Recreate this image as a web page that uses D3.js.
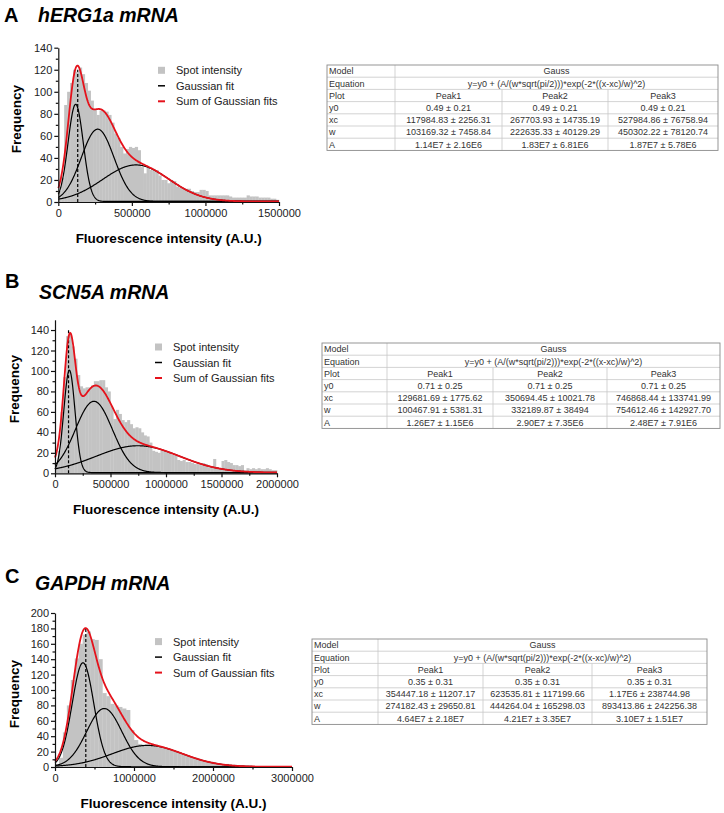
<!DOCTYPE html>
<html>
<head>
<meta charset="utf-8">
<script src="https://cdn.jsdelivr.net/npm/d3@7"></script>
<style>
  body { margin: 0; background: #fff; }
  svg { display: block; font-family: "Liberation Sans", Arial, sans-serif; }
</style>
</head>
<body>
<svg id="chart" width="724" height="813"></svg>
<script>
// ---- data ----
const letters = ['A', 'B', 'C']
const titles = ['hERG1a mRNA', 'SCN5A mRNA', 'GAPDH mRNA']
const legendLabels = ['Spot intensity', 'Gaussian fit', 'Sum of Gaussian fits']
const xTitle = 'Fluorescence intensity (A.U.)'
const yTitle = 'Frequency'

const xMaxes = [1500000, 2000000, 3000000]
const yMaxes = [140, 150, 200]
const xTickSteps = [500000, 500000, 1000000]
const binWidths = [20000, 25000, 50000]

// histogram counts per bin
const countsA = [10, 22, 88, 100, 108, 120, 118, 122, 116, 108, 101, 92, 84, 79, 83, 83, 82, 79, 72, 62,
  58, 50, 44, 48, 50, 49, 50, 47, 32, 26, 31, 29, 30, 29, 24, 20, 20, 17, 20, 19,
  14, 13, 12, 12, 12, 10, 9, 9, 11, 11, 10, 6, 6, 6, 6, 6, 6, 6, 5, 4,
  4, 4, 4, 4, 6, 5, 5, 5, 4, 4, 4, 4, 3, 3, 2]
const countsB = [10, 22, 60, 94, 134, 136, 124, 112, 96, 85,
  83, 84, 84, 86, 90, 90, 91, 91, 84, 80,
  65, 53, 62, 58, 52, 50, 52, 48, 44, 45,
  44, 40, 37, 36, 30, 22, 21, 20, 22, 22,
  21, 20, 18, 17, 13, 12, 13, 11, 11, 10,
  9, 9, 8, 10, 9, 6, 6, 14, 6, 5,
  12, 13, 11, 10, 8, 8, 7, 8, 3, 5,
  4, 5, 4, 5, 4, 4, 5, 4, 3, 3]
const countsC = [4, 12, 45, 80, 113, 141, 160, 172, 176, 166,
  165, 140, 96, 92, 82, 80, 78, 76, 74, 48,
  35, 30, 29, 29, 28, 29, 27, 25, 24, 22,
  20, 19, 17, 15, 13, 12, 10, 9, 8, 7,
  6, 5, 4, 4, 3, 3, 2, 2, 2, 1,
  1, 1, 1, 1, 0, 0, 1, 0, 0, 0]

// dashed marker at the main peak
const peakLineX = [132000, 122000, 390000]
const peakLineTop = [120, 140, 180]

// fit tables
const rowLabels = ['Model', 'Equation', 'Plot', 'y0', 'xc', 'w', 'A']
const modelName = 'Gauss'
const equation = 'y=y0 + (A/(w*sqrt(pi/2)))*exp(-2*((x-xc)/w)^2)'
const peakNames = ['Peak1', 'Peak2', 'Peak3']

const y0A = ['0.49 ± 0.21', '0.49 ± 0.21', '0.49 ± 0.21']
const xcA = ['117984.83 ± 2256.31', '267703.93 ± 14735.19', '527984.86 ± 76758.94']
const wA = ['103169.32 ± 7458.84', '222635.33 ± 40129.29', '450302.22 ± 78120.74']
const ampA = ['1.14E7 ± 2.16E6', '1.83E7 ± 6.81E6', '1.87E7 ± 5.78E6']

const y0B = ['0.71 ± 0.25', '0.71 ± 0.25', '0.71 ± 0.25']
const xcB = ['129681.69 ± 1775.62', '350694.45 ± 10021.78', '746868.44 ± 133741.99']
const wB = ['100467.91 ± 5381.31', '332189.87 ± 38494', '754612.46 ± 142927.70']
const ampB = ['1.26E7 ± 1.15E6', '2.90E7 ± 7.35E6', '2.48E7 ± 7.91E6']

const y0C = ['0.35 ± 0.31', '0.35 ± 0.31', '0.35 ± 0.31']
const xcC = ['354447.18 ± 11207.17', '623535.81 ± 117199.66', '1.17E6 ± 238744.98']
const wC = ['274182.43 ± 29650.81', '444264.04 ± 165298.03', '893413.86 ± 242256.38']
const ampC = ['4.64E7 ± 2.18E7', '4.21E7 ± 3.35E7', '3.10E7 ± 1.51E7']

// ---- layout (pixels) ----
const layout = [
  { left: 58.3, right: 279, top: 47.7, bottom: 202, letter: [4, 22], title: [38, 22], yLab: [21, 119], xLab: 243,
    legend: [158, 74.3, 176], table: { x: 327, y: 65, cols: [68, 107, 106, 110], rowH: 12.2 } },
  { left: 55, right: 277, top: 319.8, bottom: 473.3, letter: [5, 288], title: [39, 299], yLab: [19, 389], xLab: 514,
    legend: [155, 351, 173], table: { x: 322, y: 343, cols: [65, 106, 114, 113], rowH: 12.2 } },
  { left: 55, right: 292, top: 613, bottom: 767, letter: [5, 583], title: [35, 590], yLab: [19, 694], xLab: 808,
    legend: [155, 645.6, 173], table: { x: 312, y: 639, cols: [66, 105, 109, 115], rowH: 12.2 } }
]

const panels = [
  { counts: countsA, y0: y0A, xc: xcA, w: wA, amp: ampA },
  { counts: countsB, y0: y0B, xc: xcB, w: wB, amp: ampB },
  { counts: countsC, y0: y0C, xc: xcC, w: wC, amp: ampC }
].map((d, i) => ({
  ...d, ...layout[i],
  name: letters[i], titleText: titles[i], xMax: xMaxes[i], yMax: yMaxes[i],
  xStep: xTickSteps[i], bin: binWidths[i], peakX: peakLineX[i], peakTop: peakLineTop[i]
}))

const num = s => parseFloat(s.split('±')[0])
const svg = d3.select('#chart')

function drawPanel(p) {
  const g = svg.append('g')
  const x = d3.scaleLinear().domain([0, p.xMax]).range([p.left, p.right])
  const y = d3.scaleLinear().domain([0, p.yMax]).range([p.bottom, p.top])

  // histogram
  g.append('g')
    .attr('fill', '#c3c3c3')
    .selectAll('rect')
    .data(p.counts)
    .join('rect')
    .attr('x', (d, i) => x(i * p.bin))
    .attr('width', x(p.bin) - x(0) + 0.3)
    .attr('y', d => y(d))
    .attr('height', d => y(0) - y(d))

  // gaussian fits from the table parameters
  const base = num(p.y0[0])
  const peaks = p.xc.map((s, i) => {
    const w = num(p.w[i])
    return { xc: num(s), w, h: num(p.amp[i]) / (w * Math.sqrt(Math.PI / 2)) }
  })
  const gauss = (pk, v) => pk.h * Math.exp(-2 * Math.pow((v - pk.xc) / pk.w, 2))
  const xs = d3.range(0, p.xMax + 1, p.xMax / 500)
  const line = d3.line().x(d => x(d[0])).y(d => y(d[1]))

  g.append('line')
    .attr('x1', x(p.peakX)).attr('x2', x(p.peakX))
    .attr('y1', y(0)).attr('y2', y(p.peakTop))
    .attr('stroke', '#000').attr('stroke-width', 1.2)
    .attr('stroke-dasharray', '3,2')

  peaks.forEach(pk => {
    g.append('path')
      .attr('d', line(xs.map(v => [v, base + gauss(pk, v)])))
      .attr('fill', 'none').attr('stroke', '#000').attr('stroke-width', 1.2)
  })
  g.append('path')
    .attr('d', line(xs.map(v => [v, base + d3.sum(peaks, pk => gauss(pk, v))])))
    .attr('fill', 'none').attr('stroke', '#e5121b').attr('stroke-width', 1.8)

  // axes
  g.append('g')
    .attr('transform', `translate(0,${p.bottom})`)
    .call(d3.axisBottom(x)
      .tickValues(d3.range(0, p.xMax + 1, p.xStep))
      .tickFormat(d3.format('d'))
      .tickSize(4).tickSizeOuter(0).tickPadding(3))
  g.append('g')
    .attr('transform', `translate(0,${p.bottom})`)
    .call(d3.axisBottom(x)
      .tickValues(d3.range(p.xStep / 2, p.xMax, p.xStep))
      .tickFormat('').tickSize(2.5))
    .call(a => a.select('.domain').remove())

  g.append('g')
    .attr('transform', `translate(${p.left},0)`)
    .call(d3.axisLeft(y)
      .tickValues(d3.range(0, p.yMax + 1, 20))
      .tickSize(4).tickSizeOuter(0).tickPadding(2))
  g.append('g')
    .attr('transform', `translate(${p.left},0)`)
    .call(d3.axisLeft(y)
      .tickValues(d3.range(10, p.yMax, 20))
      .tickFormat('').tickSize(2.5))
    .call(a => a.select('.domain').remove())

  g.selectAll('.domain, .tick line').attr('stroke', '#111').attr('stroke-width', 1.2)
  g.selectAll('.tick text').attr('font-size', 11).attr('fill', '#222')
    .attr('font-family', '"Liberation Sans", Arial, sans-serif')

  // axis titles
  g.append('text')
    .attr('x', (p.left + p.right) / 2).attr('y', p.xLab)
    .attr('text-anchor', 'middle').attr('font-weight', 'bold').attr('font-size', 13.5)
    .text(xTitle)
  g.append('text')
    .attr('transform', `translate(${p.yLab[0]},${p.yLab[1]}) rotate(-90)`)
    .attr('text-anchor', 'middle').attr('font-weight', 'bold').attr('font-size', 13.5)
    .text(yTitle)

  // panel letter and title
  g.append('text')
    .attr('x', p.letter[0]).attr('y', p.letter[1])
    .attr('font-weight', 'bold').attr('font-size', 20)
    .text(p.name)
  g.append('text')
    .attr('x', p.title[0]).attr('y', p.title[1])
    .attr('font-weight', 'bold').attr('font-style', 'italic').attr('font-size', 19.5)
    .text(p.titleText)

  // legend
  const [lx, ly, tx] = p.legend
  const lg = g.append('g').attr('font-size', 11).attr('fill', '#222')
  legendLabels.forEach((t, i) => {
    const cy = ly + i * 15.5 - 4
    if (i === 0) {
      lg.append('rect').attr('x', lx).attr('y', cy - 3.5).attr('width', 7).attr('height', 7).attr('fill', '#c3c3c3')
    } else {
      lg.append('line').attr('x1', lx).attr('x2', lx + 7).attr('y1', cy).attr('y2', cy)
        .attr('stroke', i === 1 ? '#000' : '#e5121b').attr('stroke-width', i === 1 ? 1.5 : 2)
    }
    lg.append('text').attr('x', tx).attr('y', ly + i * 15.5).text(t)
  })

  drawTable(p)
}

function drawTable(p) {
  const t = p.table
  const g = svg.append('g').attr('font-size', 9).attr('fill', '#333')
  const colX = [t.x]
  t.cols.forEach(c => colX.push(colX[colX.length - 1] + c))
  const width = colX[4] - t.x
  const height = t.rowH * rowLabels.length
  const rowY = i => t.y + i * t.rowH

  // inner grid
  const grid = g.append('g').attr('stroke', '#c8c8c8').attr('stroke-width', 0.8)
  d3.range(1, rowLabels.length).forEach(i => {
    grid.append('line').attr('x1', t.x).attr('x2', t.x + width).attr('y1', rowY(i)).attr('y2', rowY(i))
  })
  grid.append('line').attr('x1', colX[1]).attr('x2', colX[1]).attr('y1', t.y).attr('y2', t.y + height)
  ;[2, 3].forEach(c => {
    grid.append('line').attr('x1', colX[c]).attr('x2', colX[c]).attr('y1', rowY(2)).attr('y2', t.y + height)
  })
  g.append('rect').attr('x', t.x).attr('y', t.y).attr('width', width).attr('height', height)
    .attr('fill', 'none').attr('stroke', '#8a8a8a').attr('stroke-width', 0.9)

  const base = i => rowY(i) + t.rowH * 0.5 + 3.3
  rowLabels.forEach((lab, i) => {
    g.append('text').attr('x', t.x + 2).attr('y', base(i)).text(lab)
  })
  const spanMid = (colX[1] + colX[4]) / 2
  g.append('text').attr('x', spanMid).attr('y', base(0)).attr('text-anchor', 'middle').text(modelName)
  g.append('text').attr('x', spanMid).attr('y', base(1)).attr('text-anchor', 'middle').text(equation)

  const rows = [peakNames, p.y0, p.xc, p.w, p.amp]
  rows.forEach((vals, r) => {
    vals.forEach((v, c) => {
      g.append('text')
        .attr('x', (colX[c + 1] + colX[c + 2]) / 2).attr('y', base(r + 2))
        .attr('text-anchor', 'middle').text(v)
    })
  })
}

panels.forEach(drawPanel)
</script>
</body>
</html>
